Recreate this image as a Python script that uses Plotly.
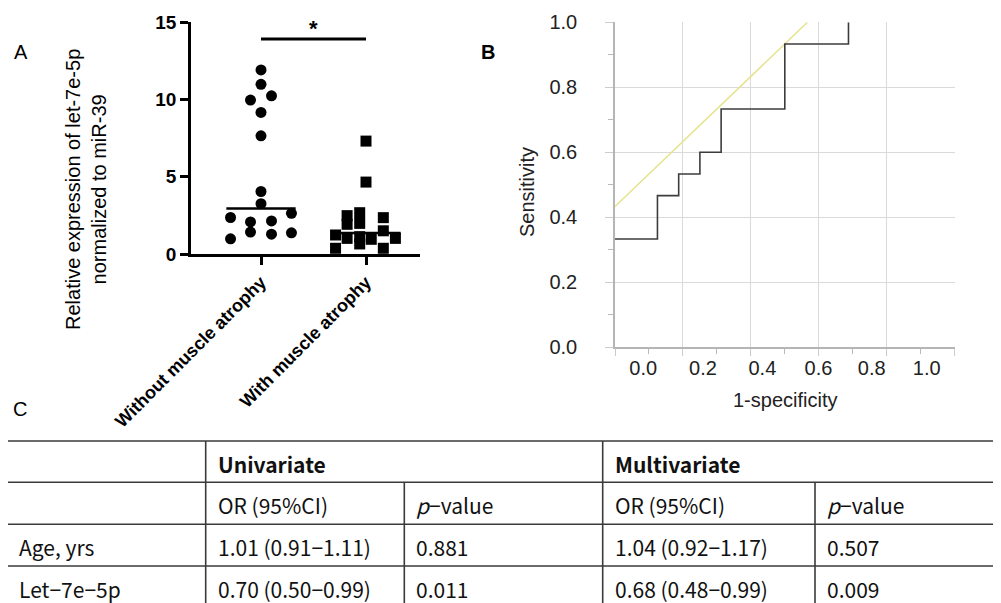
import plotly.graph_objects as go
import numpy as np

W, H = 1001, 603
OFF = 8  # page body margin of the browser

# ---------------- Panel A data ----------------
categories = ["Without muscle atrophy", "With muscle atrophy"]
without_vals = [11.9, 10.97, 9.95, 10.23, 9.15, 7.64, 4.04, 3.25, 2.36, 2.63, 2.07, 2.14, 0.98, 1.42, 1.28, 1.37]
without_jitter = [0, 0, -0.1, 0.1, 0, 0, 0, 0, -0.29, 0.29, -0.1, 0.1, -0.29, -0.1, 0.1, 0.29]
with_vals = [7.3, 4.65, 2.48, 1.92, 1.01, 2.67, 1.98, 1.12, 0.65, 1.23, 0.37, 0.95, 2.35, 1.5, 0.37, 1.01]
with_jitter = [0, 0, -0.18, -0.18, -0.18, -0.06, -0.06, -0.06, -0.06, -0.29, -0.29, 0.05, 0.165, 0.165, 0.165, 0.28]
a_yticks = [0, 5, 10, 15]
sig_level = 13.9
sig_label = "*"
a_ytitle = "Relative expression of let-7e-5p<br>normalized to miR-39"

# ---------------- Panel B data ----------------
roc_fpr = [0, 0.125, 0.1875, 0.25, 0.3125, 0.5, 0.6875]
roc_tpr = [0.3333, 0.4667, 0.5333, 0.6, 0.7333, 0.9333, 1.0]
tangent_x = [0, 0.5667]
tangent_y = [0.4333, 1.0]
b_ticks = [0, 0.2, 0.4, 0.6, 0.8, 1.0]
b_xlabel_pos = [0.083, 0.259, 0.434, 0.599, 0.756, 0.918]
b_xlabel_text = ["0.0", "0.2", "0.4", "0.6", "0.8", "1.0"]

# ---------------- Panel C table ----------------
header1 = ["", "Univariate", "", "Multivariate", ""]
header2 = ["", "OR (95%CI)", "<i>p</i>−value", "OR (95%CI)", "<i>p</i>−value"]
row_labels = ["Age, yrs", "Let−7e−5p"]
uni_or = ["1.01 (0.91−1.11)", "0.70 (0.50−0.99)"]
uni_p = ["0.881", "0.011"]
multi_or = ["1.04 (0.92−1.17)", "0.68 (0.48−0.99)"]
multi_p = ["0.507", "0.009"]

ARIAL = "Liberation Sans, Arial, sans-serif"
JP = "Noto Sans CJK JP, sans-serif"


def px(x):
    return (x - OFF) / W


def py(y):
    return 1 - (y - OFF) / H


fig = go.Figure()

# ---- Panel A traces ----
x1 = [0 + j for j in without_jitter]
x2 = [1 + j for j in with_jitter]
fig.add_trace(go.Scatter(x=x1, y=without_vals, mode="markers", xaxis="x", yaxis="y",
                         marker=dict(symbol="circle", size=11, color="black"),
                         cliponaxis=False, showlegend=False))
fig.add_trace(go.Scatter(x=x2, y=with_vals, mode="markers", xaxis="x", yaxis="y",
                         marker=dict(symbol="square", size=11, color="black"),
                         cliponaxis=False, showlegend=False))
for ci, vals in enumerate([without_vals, with_vals]):
    med = float(np.median(vals))
    fig.add_trace(go.Scatter(x=[ci - 0.33, ci + 0.33], y=[med, med], mode="lines", xaxis="x", yaxis="y",
                             line=dict(color="black", width=2.5), showlegend=False, cliponaxis=False))
fig.add_trace(go.Scatter(x=[0, 1], y=[sig_level, sig_level], mode="lines", xaxis="x", yaxis="y",
                         line=dict(color="black", width=3), showlegend=False, cliponaxis=False))

# ---- Panel B traces ----
fig.add_trace(go.Scatter(x=tangent_x, y=tangent_y, mode="lines", xaxis="x2", yaxis="y2",
                         line=dict(color="#e6e38e", width=1.5), showlegend=False))
fig.add_trace(go.Scatter(x=roc_fpr, y=roc_tpr, mode="lines", xaxis="x2", yaxis="y2",
                         line=dict(color="#3c3c3c", width=1.6, shape="hv"), showlegend=False))
fig.add_trace(go.Scatter(x=[0.5], y=[0.5], mode="markers", xaxis="x3", yaxis="y2",
                         marker=dict(opacity=0), showlegend=False, hoverinfo="skip"))

fig.update_layout(
    width=W, height=H, margin=dict(l=0, r=0, t=0, b=0, autoexpand=False),
    paper_bgcolor="white", plot_bgcolor="white", showlegend=False,
    font=dict(family=ARIAL, color="black"),
    xaxis=dict(domain=[px(191), px(420)], range=[-0.6667, 1.5143], tickvals=[0, 1], ticktext=categories,
               tickangle=-45, tickfont=dict(size=18, family=ARIAL, weight="bold", color="black"),
               ticks="outside", ticklen=8, tickwidth=2.5, tickcolor="black", automargin=False,
               showline=True, linecolor="black", linewidth=2.5, showgrid=False, zeroline=False,
               anchor="y"),
    yaxis=dict(domain=[py(254), py(22)], range=[0, 15], tickvals=a_yticks,
               tickfont=dict(size=19, family=ARIAL, weight="bold", color="black"),
               ticks="outside", ticklen=8, tickwidth=2.5, tickcolor="black", automargin=False,
               showline=True, linecolor="black", linewidth=2.5, showgrid=False, zeroline=False,
               anchor="x"),
    xaxis2=dict(domain=[px(615), px(954.6)], range=[0, 1], tickvals=b_ticks, showticklabels=False,
                ticks="outside", ticklen=7, tickcolor="#cccccc", tickwidth=1, automargin=False,
                minor=dict(ticks="outside", dtick=0.1, tick0=0, ticklen=5, tickcolor="#b8b8b8", showgrid=False),
                showline=True, linecolor="#b5b5b5", linewidth=1.5,
                showgrid=True, gridcolor="#dadada", gridwidth=1, zeroline=False, anchor="y2"),
    xaxis3=dict(overlaying="x2", range=[0, 1], tickvals=b_xlabel_pos, ticktext=b_xlabel_text,
                ticks="", showline=False, showgrid=False, zeroline=False, anchor="y2", side="bottom",
                automargin=False,
                tickfont=dict(size=20, family=ARIAL, color="#222222"), ticklabelstandoff=7),
    yaxis2=dict(domain=[py(347.3), py(22.3)], range=[0, 1], tickvals=b_ticks,
                ticktext=b_xlabel_text, tickfont=dict(size=20, family=ARIAL, color="#222222"),
                ticks="outside", ticklen=8, tickcolor="#cccccc", tickwidth=1, automargin=False,
                minor=dict(ticks="outside", dtick=0.1, tick0=0, ticklen=5, tickcolor="#b8b8b8", showgrid=False),
                showline=True, linecolor="#b5b5b5", linewidth=1.5, ticklabelstandoff=24,
                showgrid=True, gridcolor="#dadada", gridwidth=1, zeroline=False, anchor="x2"),
)

annotations = []
# panel letters
annotations.append(dict(x=px(21), y=py(52), xref="paper", yref="paper", text="A", showarrow=False,
                        font=dict(size=20, family=ARIAL, color="black"), xanchor="center", yanchor="middle"))
annotations.append(dict(x=px(488), y=py(52), xref="paper", yref="paper", text="<b>B</b>", showarrow=False,
                        font=dict(size=20, family=ARIAL, color="black"), xanchor="center", yanchor="middle"))
annotations.append(dict(x=px(20), y=py(409), xref="paper", yref="paper", text="C", showarrow=False,
                        font=dict(size=20, family=ARIAL, color="black"), xanchor="center", yanchor="middle"))
# A y title
annotations.append(dict(x=px(86), y=py(190), xref="paper", yref="paper", text=a_ytitle, textangle=-90,
                        showarrow=False, font=dict(size=20, family=ARIAL, color="black"),
                        xanchor="center", yanchor="middle"))
# significance star
annotations.append(dict(x=0.5, y=sig_level, xref="x", yref="y", text="<b>" + sig_label + "</b>", showarrow=False,
                        font=dict(size=22, family=ARIAL, color="black"), xanchor="center", yanchor="bottom",
                        yshift=-4))
# B axis titles
annotations.append(dict(x=px(527), y=py(192), xref="paper", yref="paper", text="Sensitivity", textangle=-90,
                        showarrow=False, font=dict(size=20, family=ARIAL, color="#222222"),
                        xanchor="center", yanchor="middle"))
annotations.append(dict(x=px(785), y=py(400), xref="paper", yref="paper", text="1-specificity",
                        showarrow=False, font=dict(size=20, family=ARIAL, color="#222222"),
                        xanchor="center", yanchor="middle"))

# ---- table ----
col_x = [7, 205.7, 404.3, 602.7, 815, 1020]
row_y = [441, 482.3, 524.3, 566, 608]
shapes = []
lc = dict(color="#3a3a3a", width=1.6)
for yy in row_y:
    shapes.append(dict(type="line", xref="paper", yref="paper", x0=px(col_x[0]), x1=px(col_x[-1]),
                       y0=py(yy), y1=py(yy), line=lc))
for i, xx in enumerate(col_x[:-1]):
    top = row_y[1] if i in (2, 4) else row_y[0]
    shapes.append(dict(type="line", xref="paper", yref="paper", x0=px(xx), x1=px(xx),
                       y0=py(top), y1=py(row_y[-1]), line=lc))

rows = [header1, header2,
        [row_labels[0], uni_or[0], uni_p[0], multi_or[0], multi_p[0]],
        [row_labels[1], uni_or[1], uni_p[1], multi_or[1], multi_p[1]]]
for ri, row in enumerate(rows):
    yc = (row_y[ri] + row_y[ri + 1]) / 2 + 2
    for ci, txt in enumerate(row):
        if not txt:
            continue
        weight = "bold" if ri == 0 else "normal"
        annotations.append(dict(x=px(col_x[ci] + 10), y=py(yc), xref="paper", yref="paper", text=txt,
                                showarrow=False, xanchor="left", yanchor="middle",
                                font=dict(size=21, family=JP, color="#111111", weight=weight)))

fig.update_layout(annotations=annotations, shapes=shapes)
fig.write_html("out.html")
